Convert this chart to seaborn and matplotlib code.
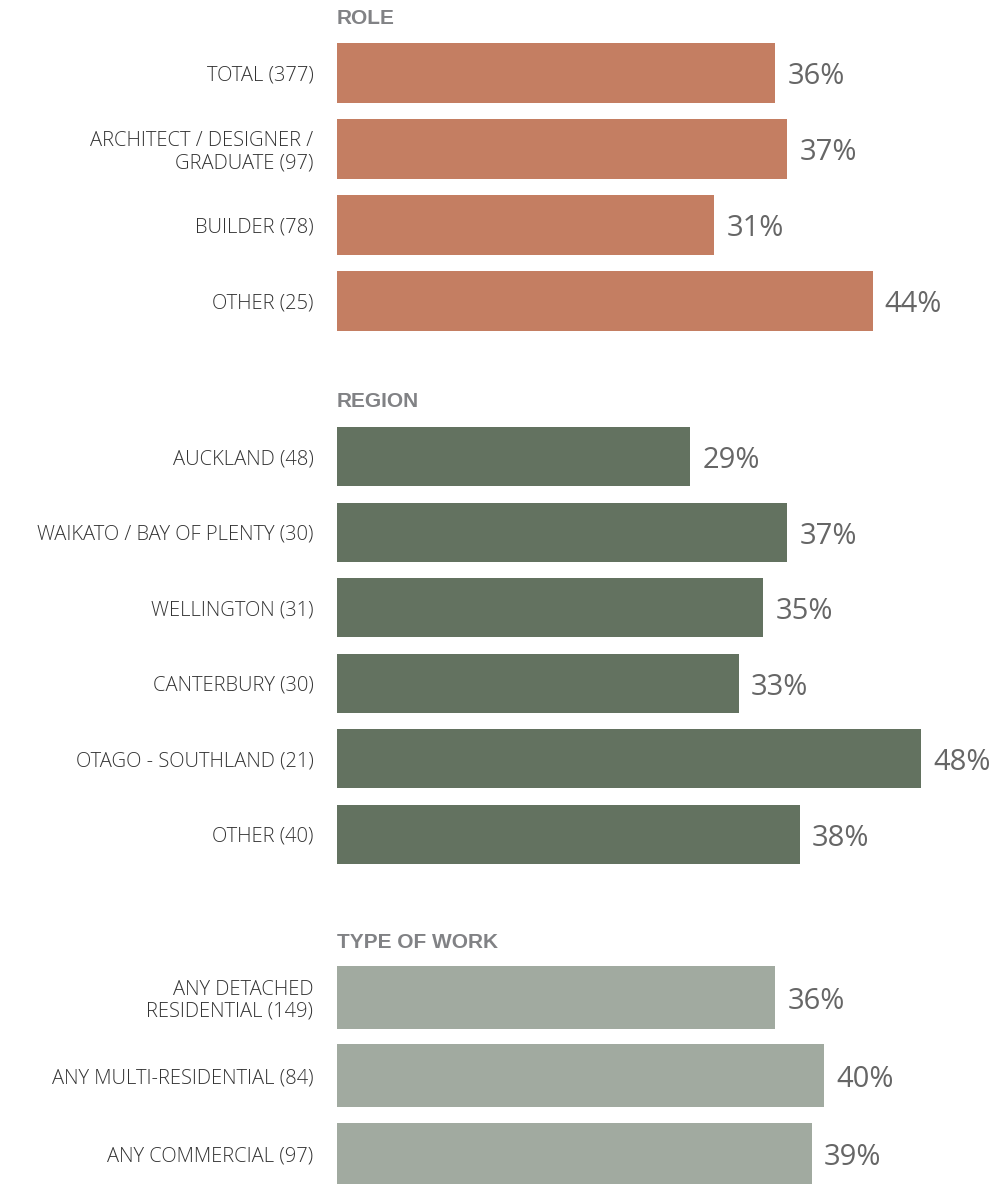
import matplotlib
matplotlib.use("Agg")
import matplotlib.pyplot as plt
import seaborn as sns
import pandas as pd

# section data
role_labels = ["TOTAL (377)", "ARCHITECT / DESIGNER /\nGRADUATE (97)", "BUILDER (78)", "OTHER (25)"]
role_values = [36, 37, 31, 44]

region_labels = ["AUCKLAND (48)", "WAIKATO / BAY OF PLENTY (30)", "WELLINGTON (31)",
                 "CANTERBURY (30)", "OTAGO - SOUTHLAND (21)", "OTHER (40)"]
region_values = [29, 37, 35, 33, 48, 38]

work_labels = ["ANY DETACHED\nRESIDENTIAL (149)", "ANY MULTI-RESIDENTIAL (84)", "ANY COMMERCIAL (97)"]
work_values = [36, 40, 39]

sns.set_style("white")
plt.rcParams["font.family"] = ["Open Sans", "DejaVu Sans"]

W, H = 992, 1184
fig = plt.figure(figsize=(W / 100, H / 100), dpi=100)

label_color = "#333333"
value_color = "#666666"
head_color = "#818285"
head_font = ["Liberation Sans", "DejaVu Sans"]


def section(title, labels, values, color, top, bottom, head_y, bar_w):
    ax = fig.add_axes([337 / W, 1 - bottom / H, 655 / W, (bottom - top) / H])
    df = pd.DataFrame({"label": labels, "value": values})
    sns.barplot(data=df, x="value", y="label", color=color, width=bar_w,
                saturation=1, linewidth=0, ax=ax)
    ax.set_xlim(0, 53.8)
    ax.set_ylim(len(labels) - 0.5, -0.5)
    ax.set_xlabel("")
    ax.set_ylabel("")
    ax.set_xticks([])
    ax.tick_params(axis="y", length=0, pad=17, labelsize=14.5, labelcolor=label_color)
    for t in ax.get_yticklabels():
        t.set_linespacing(1.15)
        t.set_fontweight("light")
    sns.despine(ax=ax, left=True, bottom=True)
    for i, v in enumerate(values):
        ax.text(v + 1.0, i + 0.05, f"{v}%", va="center", ha="left",
                fontsize=21, color=value_color, fontweight="medium")
    fig.text(337 / W, 1 - head_y / H, title, ha="left", va="center",
             fontsize=15, fontweight="bold", color=head_color, family=head_font)
    return ax


section("ROLE", role_labels, role_values, "#C47E62", 35, 339, 19, 0.78)
section("REGION", region_labels, region_values, "#637260", 419, 872, 402, 0.78)
section("TYPE OF WORK", work_labels, work_values, "#A1AAA0", 958, 1193, 942, 0.8)

fig.savefig("out.png", dpi=100)
